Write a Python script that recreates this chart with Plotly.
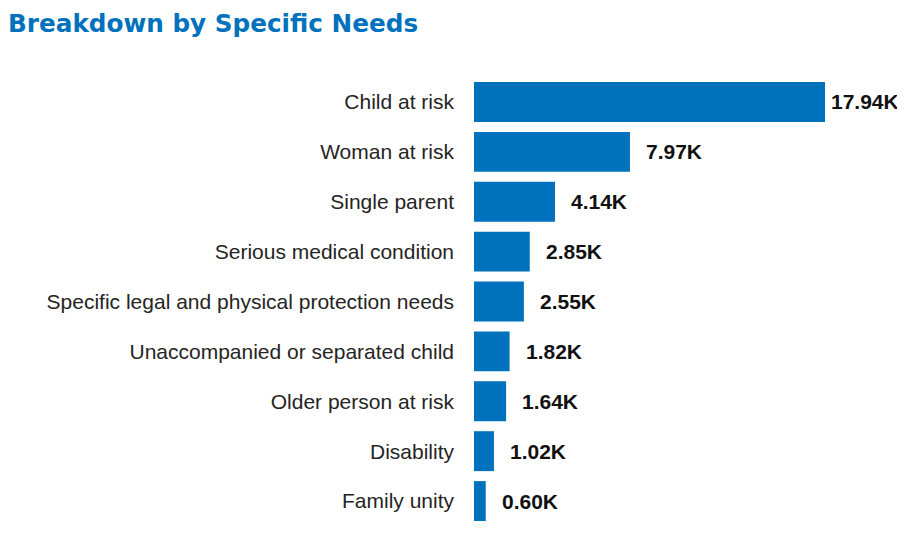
import plotly.graph_objects as go

categories = ["Child at risk", "Woman at risk", "Single parent", "Serious medical condition",
              "Specific legal and physical protection needs", "Unaccompanied or separated child",
              "Older person at risk", "Disability", "Family unity"]
values = [17940, 7970, 4140, 2850, 2550, 1820, 1640, 1020, 600]
labels = ["17.94K", "7.97K", "4.14K", "2.85K", "2.55K", "1.82K", "1.64K", "1.02K", "0.60K"]

BLUE = "#0071BC"

fig = go.Figure(go.Bar(
    x=values, y=categories, orientation="h",
    marker=dict(color=BLUE, line=dict(width=0)),
    hoverinfo="skip",
))

annotations = []
for c, v, t in zip(categories, values, labels):
    annotations.append(dict(x=v, y=c, text="<b>" + t + "</b>", xref="x", yref="y", xanchor="left",
                            yanchor="middle", showarrow=False, xshift=4 if v == max(values) else 14,
                            font=dict(family="Liberation Sans, Arial", size=21, color="#111111"),
                            ))

fig.update_layout(
    width=897, height=531,
    margin=dict(l=466, r=80, t=69, b=13),
    paper_bgcolor="white", plot_bgcolor="white",
    title=dict(text="<b>Breakdown by Specific Needs</b>", x=0.0, xanchor="left",
               y=0.971, yanchor="middle",
               font=dict(family="DejaVu Sans", size=24.7, color=BLUE)),
    bargap=0.2,
    showlegend=False,
    annotations=annotations,
)
fig.update_xaxes(range=[0, 17940], visible=False, showgrid=False, zeroline=False, fixedrange=True)
fig.update_yaxes(autorange="reversed", showgrid=False, zeroline=False, showline=False,
                 ticks="", ticklabelstandoff=19,
                 tickfont=dict(family="Liberation Sans, Arial", size=21, color="#252423"))

fig.write_html("out.html")
